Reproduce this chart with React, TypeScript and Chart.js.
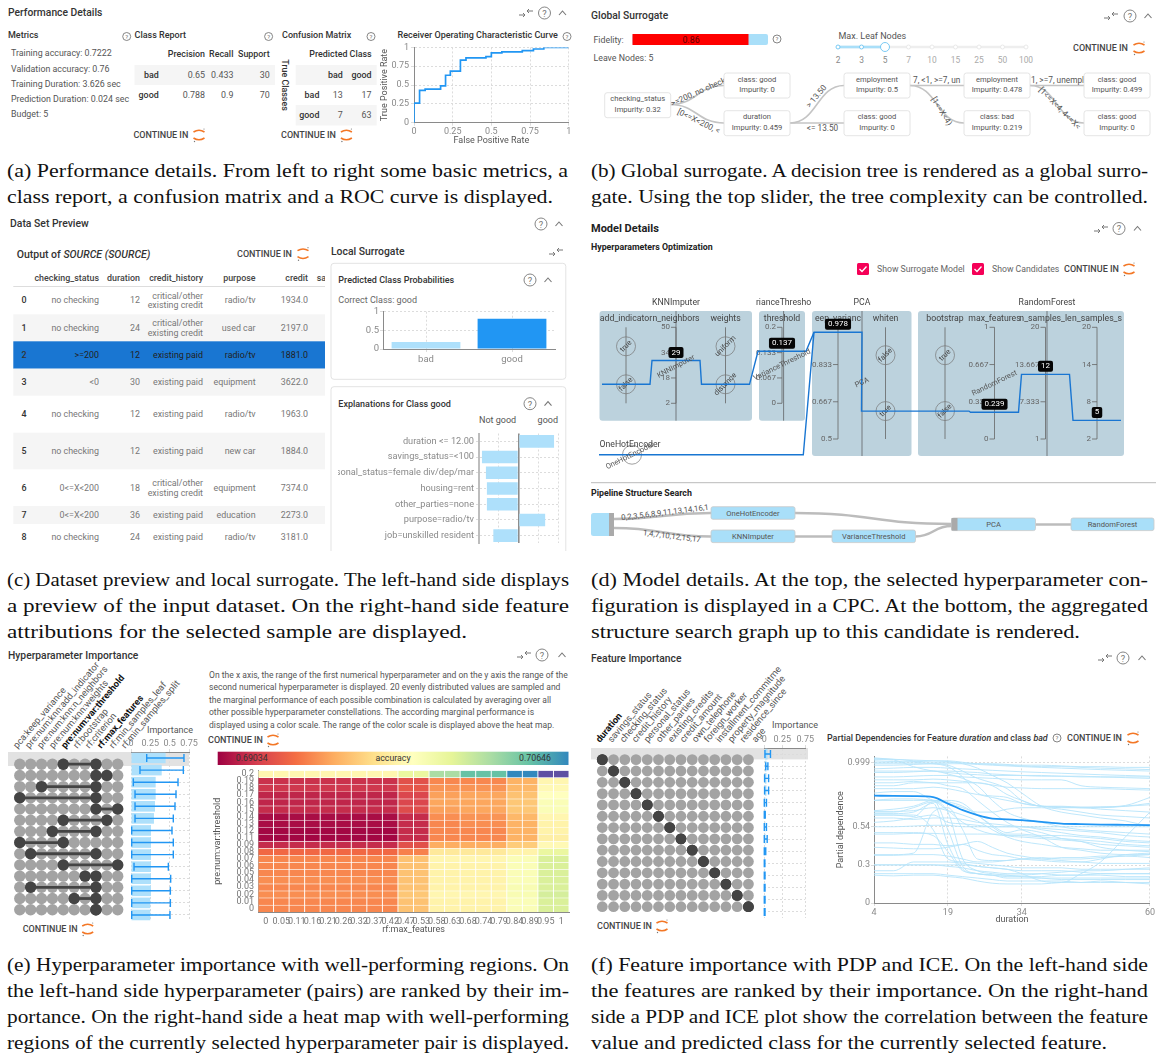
import React, { useEffect, useRef } from 'react';
import Chart from 'chart.js/auto';

// ---------- data ----------
const metricLines = ['Training accuracy: 0.7222', 'Validation accuracy: 0.76', 'Training Duration: 3.626 sec', 'Prediction Duration: 0.024 sec', 'Budget: 5'];
const rocFpr = [0, 0, 0.036, 0.072, 0.172, 0.204, 0.235, 0.3, 0.336, 0.465, 0.5, 0.568, 0.7, 0.772, 0.839, 0.868, 1];
const rocTpr = [0, 0.085, 0.26, 0.43, 0.447, 0.489, 0.63, 0.685, 0.83, 0.86, 0.877, 0.928, 0.94, 0.957, 0.979, 1, 1];
const rocTicks = [0, 0.25, 0.5, 0.75, 1];

const probClasses = ['bad', 'good'];
const probValues = [0.19, 0.81];
const probTicks = [0, 0.5, 1];

const explainLabels = ['duration <= 12.00', 'savings_status=<100', 'personal_status=female div/dep/mar', 'housing=rent', 'other_parties=none', 'purpose=radio/tv', 'job=unskilled resident'];
const explainValues = [0.09, -0.0925, -0.0825, -0.08, -0.08, 0.0675, -0.0637];

const tableHeaders = ['checking_status', 'duration', 'credit_history', 'purpose', 'credit'];
const tableChecking = ['no checking', 'no checking', '>=200', '<0', 'no checking', 'no checking', '0<=X<200', '0<=X<200', 'no checking'];
const tableDuration = ['12', '24', '12', '30', '12', '12', '18', '36', '24'];
const tableHistory = ['c', 'c', 'e', 'e', 'e', 'e', 'c', 'e', 'e'];
const tablePurpose = ['radio/tv', 'used car', 'radio/tv', 'equipment', 'radio/tv', 'new car', 'equipment', 'education', 'radio/tv'];
const tableCredit = ['1934.0', '2197.0', '1881.0', '3622.0', '1963.0', '1884.0', '7374.0', '2273.0', '3181.0'];
const tableRowCenters = [300.3, 327.7, 355, 382.3, 414, 451, 487.7, 515, 537];

const sliderLabels = ['2', '3', '5', '7', '10', '15', '25', '50', '100'];

const pcpAxisLabels = ['add_indicator', 'n_neighbors', 'weights', 'threshold', 'eep_varianc', 'whiten', 'bootstrap', 'max_features', 'n_samples_le', 'n_samples_s'];
const pcpMin = [0, 2, 0, 0, 0.5, 0, 0, 0, 1, 2];
const pcpMax = [1, 50, 1, 0.2, 1, 1, 1, 1, 20, 20];
const pcpCats: (string[] | null)[] = [['true', 'false'], null, ['uniform', 'distance'], null, null, ['false', 'true'], ['true', 'false'], null, null, null];
const pcpSelected: (number | string)[] = ['false', 29, 'distance', 0.137, 0.978, 'true', 'false', 0.239, 12, 5];
const pcpBadges = ['', '29', '', '0.137', '0.978', '', '', '0.239', '12', '5'];
const pcpTickLabels: (string[] | null)[] = [null, ['50', '34', '18', '2'], null, ['0.2', '0.133', '0.067', '0'], ['1', '0.833', '0.667', '0.5'], null, null, ['1', '0.667', '0.333', '0'], ['20', '13.667', '7.333', '1'], ['20', '14', '8', '2']];
// layout of the parallel-coordinates plot, kept apart from the values
const pcpAxisPos = [36, 86, 135.5, 192, 248, 295.5, 355, 404.5, 455.5, 507];
const pcpAxisLong = [false, false, false, false, true, true, true, true, true, true];
const pcpBlocks = [
  { t: 'KNNImputer', c: 86, l: 9.5, r: 162, long: false },
  { t: 'rianceThresho', c: 193.6, l: 169, r: 215, long: false },
  { t: 'PCA', c: 272, l: 222, r: 321.5, long: true },
  { t: 'RandomForest', c: 457, l: 328, r: 534, long: true },
];

const upsetColumns = ['pca:keep_variance', 'pre:num:knn:add_indicator', 'pre:num:knn:n_neighbors', 'pre:num:knn:weights', 'pre:num:var:threshold', 'rf:bootstrap', 'rf:criterion', 'rf:max_features', 'rf:min_samples_leaf', 'rf:min_samples_split'];
const upsetBoldColumns = [4, 7];
const upsetPairs = [[4, 7], [7, 8], [2, 7], [0, 7], [7, 9], [4, 8], [3, 7], [0, 4], [1, 7], [4, 9], [6, 7], [1, 7], [5, 7], [7, 7]];
const upsetImportance = [0.448, 0.397, 0.319, 0.319, 0.31, 0.297, 0.259, 0.259, 0.259, 0.259, 0.259, 0.259, 0.25, 0.25];
const upsetErrLow = [0.203, 0.116, 0.03, 0.052, 0.052, 0.052, 0.009, 0.009, 0.009, 0.039, 0.009, 0.009, 0.009, 0.009];
const upsetErrHigh = [0.685, 0.677, 0.608, 0.582, 0.569, 0.547, 0.53, 0.547, 0.547, 0.483, 0.513, 0.509, 0.509, 0.504];

const heatXLabels = ['0', '0.05', '0.11', '0.16', '0.21', '0.26', '0.32', '0.37', '0.42', '0.47', '0.53', '0.58', '0.63', '0.68', '0.74', '0.79', '0.84', '0.89', '0.95', '1'];
const heatYLabels = ['0.2', '0.19', '0.18', '0.17', '0.16', '0.15', '0.14', '0.13', '0.12', '0.11', '0.09', '0.08', '0.07', '0.06', '0.05', '0.04', '0.03', '0.02', '0.01', '0'];
const heatColumnGroup = [0, 0, 0, 0, 0, 0, 0, 0, 0, 1, 1, 2, 2, 3, 3, 3, 4, 4, 5, 5];
const accuracyMin = 0.69034;
const accuracyMax = 0.70646;
// accuracy per row (top to bottom) for each column group
const heatRowValues = [
  [0.69792, 0.69969, 0.70162, 0.70324, 0.70485, 0.70646],
  [0.69163, 0.6926, 0.69421, 0.69421, 0.69534, 0.69792],
  [0.69179, 0.69276, 0.69453, 0.69453, 0.6955, 0.69808],
  [0.69131, 0.69227, 0.69485, 0.69501, 0.69582, 0.6984],
  [0.69131, 0.69227, 0.69501, 0.69501, 0.69598, 0.69872],
  [0.69147, 0.69244, 0.69485, 0.69501, 0.69598, 0.69872],
  [0.69066, 0.69147, 0.69437, 0.69453, 0.6955, 0.69792],
  [0.69066, 0.69147, 0.69421, 0.69437, 0.69534, 0.69776],
  [0.6905, 0.69147, 0.69421, 0.69421, 0.69534, 0.69776],
  [0.6905, 0.69147, 0.69421, 0.69421, 0.69534, 0.69759],
  [0.69147, 0.6926, 0.69518, 0.69518, 0.69614, 0.69808],
  [0.6934, 0.69405, 0.69727, 0.69727, 0.69776, 0.69969],
  [0.69421, 0.69582, 0.69792, 0.69792, 0.69872, 0.70033],
  [0.69421, 0.69582, 0.69776, 0.69776, 0.69872, 0.70033],
  [0.69421, 0.69582, 0.69776, 0.69776, 0.69872, 0.70033],
  [0.69437, 0.69582, 0.69776, 0.69776, 0.69872, 0.70033],
  [0.69421, 0.69582, 0.69776, 0.69776, 0.69888, 0.70033],
  [0.69437, 0.69598, 0.69792, 0.69792, 0.69888, 0.70049],
  [0.69421, 0.69582, 0.69776, 0.69776, 0.69872, 0.70033],
  [0.69421, 0.69582, 0.69776, 0.69776, 0.69872, 0.70033],
];

const featureColumns = ['duration', 'savings_status', 'checking_status', 'credit_history', 'personal_status', 'other_parties', 'existing_credits', 'credit_amount', 'own_telephone', 'foreign_worker', 'installment_commitme', 'property_magnitude', 'residence_since', 'age'];
const featureImportance = [0.045, 0.03, 0.03, 0.03, 0.014, 0.007, 0.014, 0.018, 0.01, 0.004, 0.005, 0.005, 0.005, 0.005];
const featureErrLow = [0.009, 0.02, 0.004, 0.004, 0, 0, 0, 0, 0, 0, 0, 0, 0, 0];
const featureErrHigh = [0.086, 0.05, 0.06, 0.06, 0.03, 0.013, 0.03, 0.04, 0.02, 0.008, 0.01, 0.01, 0.01, 0.01];

const pdpX = [4, 8, 12, 16, 19, 22, 25, 28, 31, 34, 38, 42, 46, 50, 55, 60];
const pdpMean = [0.732, 0.731, 0.729, 0.722, 0.678, 0.633, 0.6, 0.576, 0.571, 0.565, 0.553, 0.542, 0.538, 0.535, 0.533, 0.531];
const pdpIce = [
  [0.985, 0.98, 0.975, 0.97, 0.965, 0.955, 0.95, 0.945, 0.94, 0.935, 0.93, 0.93, 0.925, 0.92, 0.915, 0.91],
  [0.96, 0.96, 0.965, 0.97, 0.97, 0.96, 0.95, 0.95, 0.945, 0.94, 0.94, 0.935, 0.93, 0.93, 0.925, 0.925],
  [0.94, 0.94, 0.945, 0.95, 0.95, 0.95, 0.945, 0.94, 0.935, 0.93, 0.925, 0.92, 0.915, 0.91, 0.905, 0.9],
  [0.98, 0.975, 0.93, 0.9, 0.89, 0.88, 0.875, 0.87, 0.87, 0.87, 0.87, 0.865, 0.865, 0.86, 0.86, 0.86],
  [0.915, 0.92, 0.925, 0.925, 0.92, 0.915, 0.91, 0.905, 0.9, 0.895, 0.89, 0.885, 0.88, 0.875, 0.87, 0.865],
  [0.89, 0.89, 0.895, 0.9, 0.9, 0.895, 0.89, 0.88, 0.875, 0.87, 0.865, 0.865, 0.86, 0.86, 0.855, 0.85],
  [0.86, 0.86, 0.865, 0.87, 0.87, 0.86, 0.855, 0.85, 0.845, 0.84, 0.84, 0.84, 0.8, 0.79, 0.785, 0.78],
  [0.84, 0.84, 0.84, 0.845, 0.84, 0.83, 0.82, 0.805, 0.79, 0.785, 0.78, 0.78, 0.78, 0.78, 0.775, 0.77],
  [0.82, 0.82, 0.83, 0.82, 0.82, 0.82, 0.82, 0.8, 0.74, 0.7, 0.66, 0.66, 0.655, 0.655, 0.66, 0.67],
  [0.97, 0.965, 0.96, 0.95, 0.93, 0.86, 0.75, 0.72, 0.7, 0.68, 0.66, 0.655, 0.65, 0.65, 0.66, 0.68],
  [0.95, 0.95, 0.95, 0.95, 0.94, 0.9, 0.85, 0.82, 0.78, 0.7, 0.66, 0.655, 0.65, 0.655, 0.665, 0.72],
  [0.78, 0.78, 0.78, 0.79, 0.78, 0.76, 0.74, 0.73, 0.72, 0.68, 0.66, 0.65, 0.65, 0.64, 0.63, 0.62],
  [0.75, 0.76, 0.76, 0.7, 0.68, 0.65, 0.62, 0.62, 0.64, 0.65, 0.65, 0.64, 0.62, 0.6, 0.59, 0.58],
  [0.7, 0.71, 0.71, 0.7, 0.69, 0.66, 0.6, 0.52, 0.46, 0.45, 0.44, 0.43, 0.42, 0.4, 0.39, 0.38],
  [0.63, 0.64, 0.66, 0.7, 0.7, 0.68, 0.6, 0.53, 0.48, 0.5, 0.48, 0.44, 0.42, 0.38, 0.36, 0.35],
  [0.625, 0.625, 0.63, 0.65, 0.63, 0.6, 0.56, 0.5, 0.45, 0.42, 0.4, 0.38, 0.37, 0.36, 0.36, 0.36],
  [0.6, 0.6, 0.59, 0.69, 0.63, 0.55, 0.5, 0.47, 0.46, 0.46, 0.45, 0.44, 0.43, 0.42, 0.4, 0.39],
  [0.58, 0.58, 0.57, 0.58, 0.58, 0.57, 0.55, 0.54, 0.53, 0.52, 0.51, 0.5, 0.49, 0.48, 0.46, 0.45],
  [0.55, 0.56, 0.58, 0.6, 0.55, 0.54, 0.53, 0.52, 0.52, 0.52, 0.5, 0.48, 0.46, 0.45, 0.43, 0.42],
  [0.52, 0.52, 0.525, 0.53, 0.53, 0.52, 0.52, 0.52, 0.52, 0.52, 0.52, 0.52, 0.52, 0.52, 0.52, 0.52],
  [0.47, 0.47, 0.475, 0.475, 0.47, 0.47, 0.47, 0.47, 0.47, 0.47, 0.46, 0.46, 0.45, 0.44, 0.42, 0.41],
  [0.38, 0.375, 0.37, 0.37, 0.38, 0.4, 0.42, 0.38, 0.34, 0.32, 0.3, 0.29, 0.28, 0.3, 0.33, 0.34],
  [0.33, 0.33, 0.34, 0.62, 0.65, 0.5, 0.3, 0.29, 0.29, 0.3, 0.31, 0.3, 0.3, 0.31, 0.32, 0.33],
  [0.325, 0.325, 0.33, 0.33, 0.32, 0.3, 0.28, 0.28, 0.29, 0.3, 0.3, 0.31, 0.31, 0.32, 0.32, 0.31],
  [0.26, 0.26, 0.26, 0.26, 0.25, 0.24, 0.22, 0.21, 0.2, 0.2, 0.2, 0.19, 0.19, 0.19, 0.18, 0.18],
  [0.22, 0.22, 0.28, 0.28, 0.28, 0.27, 0.25, 0.24, 0.23, 0.22, 0.22, 0.22, 0.21, 0.2, 0.2, 0.2],
  [0.2, 0.2, 0.2, 0.2, 0.19, 0.18, 0.17, 0.16, 0.15, 0.15, 0.15, 0.15, 0.14, 0.14, 0.14, 0.14],
  [0.19, 0.185, 0.19, 0.19, 0.18, 0.17, 0.15, 0.135, 0.13, 0.13, 0.13, 0.14, 0.14, 0.15, 0.14, 0.13],
  [0.26, 0.26, 0.26, 0.26, 0.26, 0.26, 0.25, 0.24, 0.23, 0.2, 0.15, 0.14, 0.2, 0.28, 0.45, 0.62],
  [0.7, 0.7, 0.7, 0.7, 0.5, 0.25, 0.2, 0.19, 0.17, 0.17, 0.17, 0.17, 0.17, 0.17, 0.17, 0.17],
  [0.62, 0.62, 0.65, 0.69, 0.62, 0.3, 0.22, 0.2, 0.19, 0.18, 0.17, 0.16, 0.16, 0.16, 0.16, 0.16],
  [0.61, 0.61, 0.62, 0.68, 0.4, 0.23, 0.2, 0.19, 0.19, 0.19, 0.2, 0.21, 0.22, 0.22, 0.23, 0.24],
  [0.8, 0.8, 0.82, 0.82, 0.8, 0.78, 0.7, 0.62, 0.55, 0.5, 0.45, 0.38, 0.36, 0.34, 0.33, 0.33],
  [0.9, 0.9, 0.9, 0.9, 0.88, 0.85, 0.8, 0.7, 0.62, 0.58, 0.55, 0.52, 0.5, 0.49, 0.48, 0.47],
  [0.41, 0.41, 0.4, 0.4, 0.39, 0.4, 0.36, 0.33, 0.32, 0.3, 0.29, 0.28, 0.28, 0.27, 0.27, 0.27],
  [0.48, 0.48, 0.48, 0.46, 0.35, 0.22, 0.2, 0.19, 0.18, 0.18, 0.18, 0.19, 0.19, 0.2, 0.2, 0.2],
  [0.6, 0.6, 0.6, 0.5, 0.3, 0.28, 0.27, 0.26, 0.25, 0.24, 0.24, 0.24, 0.23, 0.23, 0.23, 0.23],
  [0.99, 0.98, 0.97, 0.96, 0.96, 0.95, 0.92, 0.87, 0.82, 0.75, 0.66, 0.62, 0.6, 0.58, 0.56, 0.52],
];
const pdpYTickPos = [0, 0.2585, 0.519, 0.959];
const pdpYTickLabels = ['0', '0.3', '0.54', '0.999'];
const pdpXTicks = [4, 19, 34, 60];

const spectralStops = ['#9e0142', '#d53e4f', '#f46d43', '#fdae61', '#fee08b', '#ffffbf', '#e6f598', '#abdda4', '#66c2a5', '#3288bd', '#5e4fa2'];

// ---------- helpers ----------
const FONT = 'Roboto, sans-serif';
const BLUE = '#2196f3';
const LIGHT = '#aee0fb';
const GRID = '#dcdcdc';
const AXIS = '#8a8a8a';
const TICK = '#8a8a8a';

function hex(c: string) { return [1, 3, 5].map(i => parseInt(c.slice(i, i + 2), 16)); }
function spectral(v: number) {
  const t = Math.max(0, Math.min(1, (v - accuracyMin) / (accuracyMax - accuracyMin))) * (spectralStops.length - 1);
  const i = Math.min(Math.floor(t), spectralStops.length - 2);
  const a = hex(spectralStops[i]); const b = hex(spectralStops[i + 1]); const f = t - i;
  return `rgb(${a.map((x, k) => Math.round(x + (b[k] - x) * f)).join(',')})`;
}

function base(padding: any) {
  return {
    responsive: false, animation: false as const,
    layout: { padding },
    plugins: { legend: { display: false }, tooltip: { enabled: false } },
  };
}
const fitH = (h: number) => (s: any) => { s.height = h; };
const fitW = (w: number) => (s: any) => { s.width = w; };
const tickFont = (size = 9) => ({ family: 'Roboto', size });
const fixedTicks = (ticks: number[]) => (s: any) => { s.ticks = ticks.map(value => ({ value })); };
const plainTick = (v: number) => String(v);

function errorBars(lo: number[], hi: number[], cap: number) {
  return {
    id: 'errs',
    afterDatasetsDraw(c: any) {
      const { ctx, scales: { x, y } } = c;
      ctx.save(); ctx.strokeStyle = BLUE; ctx.lineWidth = 1.4;
      lo.forEach((l, i) => {
        const py = y.getPixelForValue(i); const a = x.getPixelForValue(l); const b = x.getPixelForValue(hi[i]);
        ctx.beginPath();
        ctx.moveTo(a, py); ctx.lineTo(b, py);
        ctx.moveTo(a, py - cap); ctx.lineTo(a, py + cap);
        ctx.moveTo(b, py - cap); ctx.lineTo(b, py + cap);
        ctx.stroke();
      });
      ctx.restore();
    },
  };
}

function ChartBox({ x, y, w, h, make }: { x: number; y: number; w: number; h: number; make: () => any }) {
  const ref = useRef<HTMLCanvasElement>(null);
  useEffect(() => {
    const c = new Chart(ref.current as any, make());
    return () => c.destroy();
  }, []);
  return <canvas ref={ref} width={w} height={h} style={{ position: 'absolute', left: x, top: y, width: w, height: h }} />;
}

function T({ x, y, s = 9, w = 400, c = '#555', a = 'start', rot, it, children }: any) {
  return (
    <text x={x} y={y} fontSize={s} fontWeight={w} fill={c} textAnchor={a} dominantBaseline="central" fontFamily={FONT} fontStyle={it ? 'italic' : undefined}
      transform={rot !== undefined ? `rotate(${rot} ${x} ${y})` : undefined}>{children}</text>
  );
}
function Help({ x, y, r = 5.5 }: any) {
  return (
    <g>
      <circle cx={x} cy={y} r={r} fill="none" stroke="#777" strokeWidth={0.9} />
      <text x={x} y={y + 0.3} fontSize={r * 1.55} fill="#777" textAnchor="middle" dominantBaseline="central" fontFamily={FONT}>?</text>
    </g>
  );
}
function Chev({ x, y }: any) {
  return <polyline points={`${x - 3.5},${y + 2} ${x},${y - 2} ${x + 3.5},${y + 2}`} fill="none" stroke="#777" strokeWidth={1.1} />;
}
function Shrink({ x, y }: any) {
  return (
    <g stroke="#777" strokeWidth={1} fill="none">
      <path d={`M${x - 7},${y + 2} h6 m-2,-2 l2,2 l-2,2`} />
      <path d={`M${x + 7},${y - 2} h-6 m2,-2 l-2,2 l2,2`} />
    </g>
  );
}
function Oj({ x, y }: any) {
  return (
    <g fill="none" stroke="#f37726" strokeWidth={1.6}>
      <path d={`M${x - 5.5},${y - 3} Q${x},${y - 6.5} ${x + 5.5},${y - 3}`} />
      <path d={`M${x - 5.5},${y + 3} Q${x},${y + 6.5} ${x + 5.5},${y + 3}`} />
      <circle cx={x + 5} cy={y - 6} r={0.6} fill="#777" stroke="none" />
      <circle cx={x - 4.5} cy={y + 6.5} r={0.7} fill="#777" stroke="none" />
    </g>
  );
}
function Cont({ x, y, ix }: any) {
  return (
    <g>
      <T x={x} y={y} s={9} w={500} c="#444" >CONTINUE IN</T>
      <Oj x={ix} y={y} />
    </g>
  );
}
function Cap({ x, y, w, children }: any) {
  return (
    <text x={x} y={y} fontSize={18.5} fill="#111" fontFamily="'Liberation Serif', serif" textLength={w} lengthAdjust="spacingAndGlyphs" dominantBaseline="central">{children}</text>
  );
}
function Node({ x, y, l1, l2 }: any) {
  return (
    <g>
      <rect x={x} y={y} width={66} height={25} rx={2.5} fill="#fff" stroke="#ddd" strokeWidth={0.8} />
      <T x={x + 33} y={y + 6.2} s={7.6} a="middle" c="#555">{l1}</T>
      <T x={x + 33} y={y + 16.8} s={7.6} a="middle" c="#555">{l2}</T>
    </g>
  );
}
function Edge({ a, b, c, d, w = 1.6, col = '#c4c4c4' }: any) {
  const m = (a + c) / 2;
  return <path d={`M${a},${b} C${m},${b} ${m},${d} ${c},${d}`} fill="none" stroke={col} strokeWidth={w} />;
}
function PipeNode({ x, y, w, h = 12.6, t }: any) {
  return (
    <g>
      <rect x={x} y={y} width={w} height={h} rx={2} fill="#a9dff9" stroke="#c9c9c9" strokeWidth={0.8} />
      <T x={x + w / 2} y={y + h / 2} s={7.6} a="middle" c="#555">{t}</T>
    </g>
  );
}

// ---------- chart configs ----------
function rocConfig() {
  return {
    type: 'line',
    data: {
      datasets: [{ data: rocFpr.map((x, i) => ({ x, y: rocTpr[i] })), borderColor: BLUE, borderWidth: 1.7, stepped: 'after', pointRadius: 0 }],
    },
    options: {
      ...base({ top: 4.3, right: 6.3 }),
      scales: {
        x: {
          type: 'linear', min: 0, max: 1, afterFit: fitH(23.3), afterBuildTicks: fixedTicks(rocTicks),
          ticks: { color: TICK, font: tickFont(9), padding: 1, maxRotation: 0, autoSkip: false, callback: plainTick },
          grid: { color: GRID, tickLength: 3 }, border: { color: AXIS, dash: [2, 2] },
          title: { display: true, text: 'False Positive Rate', color: '#555', font: tickFont(9), padding: 0 },
        },
        y: {
          min: 0, max: 1, afterFit: fitW(35), afterBuildTicks: fixedTicks(rocTicks),
          ticks: { color: TICK, font: tickFont(9), padding: 2, autoSkip: false, callback: plainTick },
          grid: { color: GRID, tickLength: 3 }, border: { color: AXIS, dash: [2, 2] },
          title: { display: true, text: 'True Positive Rate', color: '#555', font: tickFont(9), padding: 0 },
        },
      },
    },
  };
}

function probConfig() {
  return {
    type: 'bar',
    data: {
      labels: probClasses,
      datasets: [{ data: probValues, backgroundColor: [LIGHT, BLUE], barPercentage: 0.8, categoryPercentage: 1 }],
    },
    options: {
      ...base({ top: 6, right: 5 }),
      scales: {
        x: {
          afterFit: fitH(19),
          ticks: { color: TICK, font: tickFont(9.5), padding: 2 },
          grid: { color: GRID, offset: false, tickLength: 3 }, border: { color: AXIS, dash: [2, 2] },
        },
        y: {
          min: 0, max: 1, afterFit: fitW(43), afterBuildTicks: fixedTicks(probTicks),
          ticks: { color: TICK, font: tickFont(9.5), padding: 1, callback: plainTick },
          grid: { color: GRID, tickLength: 3 }, border: { color: AXIS, dash: [2, 2] },
        },
      },
    },
  };
}

function explainConfig() {
  return {
    type: 'bar',
    data: {
      labels: explainLabels,
      datasets: [{ data: explainValues, backgroundColor: LIGHT, barPercentage: 0.8, categoryPercentage: 1 }],
    },
    options: {
      ...base({ right: 4 }),
      indexAxis: 'y',
      scales: {
        x: {
          min: -0.1, max: 0.1, afterFit: fitH(0),
          ticks: { display: false, stepSize: 0.05 },
          grid: { color: (c: any) => (c.tick.value === 0 ? '#8d8d8d' : GRID), lineWidth: (c: any) => (c.tick.value === 0 ? 1.6 : 1), drawTicks: false },
          border: { display: false, dash: (c: any) => (c.tick && c.tick.value === 0 ? [] : [2, 2]) },
        },
        y: {
          afterFit: fitW(141),
          ticks: { color: TICK, font: tickFont(9.2), autoSkip: false, padding: 2 },
          grid: { color: GRID, offset: false, tickLength: 3 }, border: { color: '#bdbdbd', width: 2, dash: [2, 2] },
        },
      },
    },
  };
}

function pcpY(i: number, v: number | string) {
  const top = 31.3; const bottom = pcpAxisLong[i] ? 143 : 107.3;
  const cats = pcpCats[i];
  if (cats) return top + ((cats.indexOf(v as string) + 0.5) / cats.length) * (bottom - top);
  return bottom - (((v as number) - pcpMin[i]) / (pcpMax[i] - pcpMin[i])) * (bottom - top);
}

function pcpConfig() {
  const main: { x: number; y: number }[] = [];
  pcpAxisLabels.forEach((_, i) => {
    const y = pcpY(i, pcpSelected[i]);
    main.push({ x: pcpAxisPos[i] - 24, y }, { x: pcpAxisPos[i] + 24, y });
  });
  const keep = main[8];
  const encoder = [{ x: 9, y: 158.7 }, { x: 213.3, y: 158.7 }, keep];
  const plugin = {
    id: 'pcp',
    beforeDatasetsDraw(c: any) {
      const { ctx, scales: { x, y } } = c;
      ctx.save();
      ctx.textBaseline = 'middle';
      pcpBlocks.forEach(b => {
        const y0 = y.getPixelForValue(15); const y1 = y.getPixelForValue(b.long ? 160 : 124.7);
        ctx.fillStyle = '#bcd2dd';
        ctx.beginPath();
        ctx.roundRect(x.getPixelForValue(b.l), y0, x.getPixelForValue(b.r) - x.getPixelForValue(b.l), y1 - y0, 3);
        ctx.fill();
        ctx.strokeStyle = '#555'; ctx.lineWidth = 0.7;
        ctx.beginPath(); ctx.moveTo(x.getPixelForValue(b.c), y0); ctx.lineTo(x.getPixelForValue(b.c), y1); ctx.stroke();
        ctx.fillStyle = '#444'; ctx.font = '8.7px Roboto'; ctx.textAlign = 'center';
        ctx.fillText(b.t, x.getPixelForValue(b.c), y.getPixelForValue(6.9));
      });
      pcpAxisLabels.forEach((name, i) => {
        const px = x.getPixelForValue(pcpAxisPos[i]);
        const top = y.getPixelForValue(31.3); const bottom = y.getPixelForValue(pcpAxisLong[i] ? 143 : 107.3);
        ctx.fillStyle = '#444'; ctx.font = '8.7px Roboto'; ctx.textAlign = 'center';
        ctx.fillText(name, px, y.getPixelForValue(23.2));
        ctx.strokeStyle = '#666'; ctx.lineWidth = 0.8;
        ctx.beginPath(); ctx.moveTo(px, top); ctx.lineTo(px, bottom); ctx.stroke();
        const labels = pcpTickLabels[i];
        if (labels) {
          labels.forEach((l, k) => {
            const py = top + (k / (labels.length - 1)) * (bottom - top);
            ctx.beginPath(); ctx.moveTo(px - 5, py); ctx.lineTo(px, py); ctx.stroke();
            ctx.fillStyle = '#666'; ctx.font = '8px Roboto'; ctx.textAlign = 'right';
            ctx.fillText(l, px - 6, py);
          });
        }
        const cats = pcpCats[i];
        if (cats) {
          cats.forEach(cat => {
            const py = y.getPixelForValue(pcpY(i, cat));
            ctx.strokeStyle = '#777'; ctx.lineWidth = 0.7;
            ctx.beginPath(); ctx.arc(px, py, 9.5, 0, Math.PI * 2); ctx.stroke();
            ctx.save(); ctx.translate(px, py); ctx.rotate(-Math.PI / 4);
            ctx.fillStyle = '#444'; ctx.font = '7.5px Roboto'; ctx.textAlign = 'center';
            ctx.fillText(cat, 0, 0); ctx.restore();
          });
        }
      });
      // OneHotEncoder axis
      const ex = x.getPixelForValue(42); const ey = y.getPixelForValue(158.7);
      ctx.strokeStyle = '#777'; ctx.lineWidth = 0.7;
      ctx.beginPath(); ctx.arc(ex, ey, 9.5, 0, Math.PI * 2); ctx.stroke();
      ctx.fillStyle = '#444'; ctx.font = '8.7px Roboto'; ctx.textAlign = 'left';
      ctx.fillText('OneHotEncoder', x.getPixelForValue(9.5), y.getPixelForValue(149));
      ctx.restore();
    },
    afterDatasetsDraw(c: any) {
      const { ctx, scales: { x, y } } = c;
      ctx.save();
      ctx.textBaseline = 'middle'; ctx.textAlign = 'center';
      const rotated: [string, number, number, number][] = [
        ['KNNImputer', 86, 70.7, -28], ['VarianceThreshold', 192, 69, -26], ['PCA', 272, 86.7, -25], ['RandomForest', 404.5, 87.3, -26], ['OneHotEncoder', 40, 160, -26],
      ];
      rotated.forEach(([t, a, b, r]) => {
        ctx.save(); ctx.translate(x.getPixelForValue(a), y.getPixelForValue(b)); ctx.rotate((r * Math.PI) / 180);
        ctx.fillStyle = '#555'; ctx.font = '7.5px Roboto'; ctx.fillText(t, 0, 0); ctx.restore();
      });
      pcpBadges.forEach((t, i) => {
        if (!t) return;
        const px = x.getPixelForValue(pcpAxisPos[i]);
        const py = y.getPixelForValue(pcpY(i, pcpSelected[i]) - 8);
        ctx.font = '8px Roboto';
        const w = ctx.measureText(t).width + 6;
        ctx.fillStyle = '#050505';
        ctx.beginPath(); ctx.roundRect(px - w / 2, py - 5.5, w, 11, 2); ctx.fill();
        ctx.fillStyle = '#fff'; ctx.fillText(t, px, py);
      });
      ctx.restore();
    },
  };
  const line = (data: any) => ({ data, borderColor: '#1976d2', borderWidth: 1.4, pointRadius: 0, showLine: true, tension: 0 });
  return {
    type: 'scatter',
    data: { datasets: [line(main), line(encoder)] },
    options: {
      ...base(0),
      scales: {
        x: { type: 'linear', min: 0, max: 540, display: false },
        y: { type: 'linear', min: 0, max: 174, reverse: true, display: false },
      },
    },
    plugins: [plugin],
  };
}

function dotsConfig(nCols: number, pairs: number[][], xr: number[], yr: number[], r: number) {
  const all: any[] = [];
  pairs.forEach((_, row) => { for (let c = 0; c < nCols; c++) all.push({ x: c, y: row }); });
  const dark: any[] = [];
  pairs.forEach((p, row) => { p.forEach(c => dark.push({ x: c, y: row })); });
  const lines = pairs.map((p, row) => ({
    data: [{ x: p[0], y: row }, { x: p[1], y: row }], showLine: true, borderColor: '#444', borderWidth: 2.8, pointRadius: 0, order: 2, clip: false,
  }));
  return {
    type: 'scatter',
    data: {
      datasets: [
        { data: all, backgroundColor: '#a3a3a3', pointRadius: r, pointBorderWidth: 0, order: 3, clip: false },
        ...lines,
        { data: dark, backgroundColor: '#444', pointRadius: r, pointBorderWidth: 0, order: 1, clip: false },
      ],
    },
    options: {
      ...base(0),
      scales: {
        x: { type: 'linear', min: xr[0], max: xr[1], display: false },
        y: { type: 'linear', min: yr[0], max: yr[1], reverse: true, display: false },
      },
    },
  };
}

function importanceConfig(vals: number[], lo: number[], hi: number[], pad: any, top: number, maxV: number, ticks: number[], tickText: string[]) {
  return {
    type: 'bar',
    data: {
      labels: vals.map((_, i) => String(i)),
      datasets: [{ data: vals, backgroundColor: LIGHT, barPercentage: 0.88, categoryPercentage: 1 }],
    },
    options: {
      ...base(pad),
      indexAxis: 'y',
      scales: {
        x: {
          position: 'top', min: 0, max: maxV, afterFit: fitH(top),
          afterBuildTicks: fixedTicks(ticks),
          ticks: { color: TICK, font: tickFont(9), padding: 0, maxRotation: 0, autoSkip: false, callback: (v: number) => tickText[ticks.indexOf(v)] },
          grid: { color: GRID, tickLength: 3 }, border: { color: AXIS, dash: [2, 2] },
        },
        y: {
          afterFit: fitW(0),
          ticks: { display: false },
          grid: { color: GRID, offset: false, drawTicks: false }, border: { display: false, dash: [2, 2] },
        },
      },
    },
    plugins: [errorBars(lo, hi, 4)],
  };
}

function heatConfig() {
  const rowsBottomUp = heatRowValues.map(r => heatColumnGroup.map(g => r[g])).reverse();
  return {
    type: 'bar',
    data: {
      labels: heatXLabels,
      datasets: rowsBottomUp.map(row => ({
        data: row.map(() => 1),
        backgroundColor: row.map(spectral),
        borderColor: 'rgba(255,255,255,0.22)', borderWidth: 0.8,
        barPercentage: 1, categoryPercentage: 1, yAxisID: 'yv',
      })),
    },
    options: {
      ...base({ top: 4.3, right: 3 }),
      scales: {
        x: {
          stacked: true, afterFit: fitH(23),
          ticks: { autoSkip: false, maxRotation: 0, minRotation: 0, color: '#777', font: tickFont(9), padding: 1 },
          grid: { display: false, tickLength: 3, drawTicks: true }, border: { color: AXIS },
          title: { display: true, text: 'rf:max_features', color: '#555', font: tickFont(9), padding: 0 },
        },
        yv: { type: 'linear', stacked: true, min: 0, max: 20, display: false },
        y: {
          type: 'category', labels: heatYLabels, offset: true, position: 'left', afterFit: fitW(46),
          ticks: { autoSkip: false, color: '#777', font: tickFont(9), padding: 1 },
          grid: { display: false, tickLength: 3 }, border: { color: AXIS },
          title: { display: true, text: 'pre:num:var:threshold', color: '#555', font: tickFont(9), padding: 0 },
        },
      },
    },
  };
}

function pdpConfig() {
  const toXY = (ys: number[]) => ys.map((y, i) => ({ x: pdpX[i], y }));
  return {
    type: 'line',
    data: {
      datasets: [
        { data: toXY(pdpMean), borderColor: BLUE, borderWidth: 1.8, pointRadius: 0, cubicInterpolationMode: 'monotone', order: 0 },
        ...pdpIce.map(l => ({ data: toXY(l), borderColor: '#b7e4fb', borderWidth: 0.9, pointRadius: 0, cubicInterpolationMode: 'monotone', order: 1 })),
      ],
    },
    options: {
      ...base({ top: 6, right: 5 }),
      scales: {
        x: {
          type: 'linear', min: 4, max: 60, afterFit: fitH(22),
          afterBuildTicks: fixedTicks(pdpXTicks),
          ticks: { color: TICK, font: tickFont(9), padding: 1, maxRotation: 0 },
          grid: { color: GRID, tickLength: 3 }, border: { color: AXIS, dash: [2, 2] },
          title: { display: true, text: 'duration', color: '#555', font: tickFont(9), padding: 0 },
        },
        y: {
          min: 0, max: 1, afterFit: fitW(39),
          afterBuildTicks: fixedTicks(pdpYTickPos),
          ticks: { color: TICK, font: tickFont(9), padding: 1, callback: (v: number) => pdpYTickLabels[pdpYTickPos.indexOf(v)] },
          grid: { color: GRID, tickLength: 3 }, border: { color: AXIS, dash: [2, 2] },
          title: { display: true, text: 'Partial dependence', color: '#555', font: tickFont(9), padding: 0 },
        },
      },
    },
  };
}

// ---------- page ----------
function Overlay() {
  return (
    <svg width={1156} height={1057} style={{ position: 'absolute', left: 0, top: 0 }}>
      <defs>
        <linearGradient id="spec">
          {spectralStops.slice(0, 10).map((c, i) => <stop key={i} offset={`${(i / 9) * 100}%`} stopColor={c} />)}
        </linearGradient>
        <clipPath id="tbl"><rect x={0} y={270} width={325} height={282} /></clipPath>
      </defs>

      {/* (a) */}
      <T x={8} y={12} s={10.3} w={500} c="#333">Performance Details</T>
      <Shrink x={526} y={13} /><Help x={544.5} y={13} r={6} /><Chev x={562.5} y={13} />
      <T x={8} y={35} s={9} w={500} c="#333">Metrics</T><Help x={126.7} y={36.5} r={4} />
      {metricLines.map((m, i) => <T key={i} x={11} y={53.3 + i * 15.2} s={8.85} c="#555">{m}</T>)}
      <T x={134.5} y={35} s={9} w={500} c="#333">Class Report</T><Help x={268.6} y={36.5} r={4} />
      <rect x={134.5} y={65} width={140.5} height={20} fill="#f5f5f5" />
      {[['Precision', 205], ['Recall', 233.4], ['Support', 269.7]].map(([t, x]: any) => <T key={t} x={x} y={54.3} s={8.9} w={500} c="#333" a="end">{t}</T>)}
      <T x={144} y={75} s={8.9} w={500} c="#333">bad</T>
      <T x={138.6} y={95} s={8.9} w={500} c="#333">good</T>
      {[['0.65', 205, 75], ['0.433', 233.4, 75], ['30', 269.7, 75], ['0.788', 205, 95], ['0.9', 233.4, 95], ['70', 269.7, 95]].map(([t, x, y]: any) => <T key={t} x={x} y={y} s={8.9} c="#555" a="end">{t}</T>)}
      <Cont x={133.4} y={135} ix={199} />
      <T x={282} y={35} s={9} w={500} c="#333">Confusion Matrix</T><Help x={371} y={36.5} r={4} />
      <T x={285} y={85} s={8.9} w={500} c="#333" a="middle" rot={90}>True Classes</T>
      <rect x={295.7} y={65} width={81} height={20} fill="#f5f5f5" />
      <rect x={295.7} y={105} width={81} height={20.5} fill="#f5f5f5" />
      <T x={371.6} y={54.3} s={8.9} w={500} c="#333" a="end">Predicted Class</T>
      <T x={342.7} y={75} s={8.9} w={500} c="#333" a="end">bad</T>
      <T x={371.6} y={75} s={8.9} w={500} c="#333" a="end">good</T>
      <T x={319.4} y={95} s={8.9} w={500} c="#333" a="end">bad</T>
      <T x={319.4} y={115} s={8.9} w={500} c="#333" a="end">good</T>
      {[['13', 342.7, 95], ['17', 371.6, 95], ['7', 342.7, 115], ['63', 371.6, 115]].map(([t, x, y]: any) => <T key={t} x={x} y={y} s={8.9} c="#555" a="end">{t}</T>)}
      <Cont x={281} y={135} ix={346.4} />
      <T x={397.5} y={35} s={9} w={500} c="#333">Receiver Operating Characteristic Curve</T><Help x={567} y={36.5} r={4} />

      <Cap x={7} y={171} w={561}>(a) Performance details. From left to right some basic metrics, a</Cap>
      <Cap x={7} y={197} w={546}>class report, a confusion matrix and a ROC curve is displayed.</Cap>

      {/* (b) */}
      <T x={591} y={15} s={10.3} w={500} c="#333">Global Surrogate</T>
      <Shrink x={1111} y={16} /><Help x={1130} y={16} r={6} /><Chev x={1148} y={16} />
      <T x={593.5} y={40} s={8.8} c="#555">Fidelity:</T>
      <rect x={632.5} y={34} width={135.5} height={11} rx={2} fill="#a9dff9" />
      <rect x={632.5} y={34} width={116} height={11} fill="#ff0000" />
      <T x={691} y={40} s={8.8} a="middle" c="#5a0000">0.86</T>
      <Help x={777} y={39} r={4} />
      <T x={593.5} y={57.7} s={8.8} c="#555">Leave Nodes: 5</T>
      <T x={838.5} y={35.7} s={9} c="#555">Max. Leaf Nodes</T>
      <rect x={838} y={45.7} width={190} height={2.6} rx={1.3} fill="#eee" />
      <rect x={838} y={45.7} width={47} height={2.6} fill="#a9dff9" />
      {sliderLabels.map((l, i) => {
        const x = 838 + i * 23.5;
        return (
          <g key={l}>
            <circle cx={x} cy={47} r={i === 2 ? 4.5 : 2} fill="#fff" stroke={i <= 2 ? '#6cc4f2' : '#e6e6e6'} strokeWidth={0.9} />
            <T x={x} y={60} s={8.4} a="middle" c={i <= 2 ? '#888' : '#aaa'}>{l}</T>
          </g>
        );
      })}
      <Cont x={1073} y={48} ix={1139} />
      <Edge a={670} b={104.5} c={724} d={85.5} /><Edge a={670} b={104.5} c={724} d={123} />
      <Edge a={790} b={123} c={844} d={85.5} /><Edge a={790} b={123} c={844} d={123} />
      <Edge a={910} b={85.5} c={964} d={85.5} /><Edge a={910} b={85.5} c={964} d={123} />
      <Edge a={1030} b={85.5} c={1084} d={85.5} /><Edge a={1030} b={85.5} c={1084} d={123} />
      <T x={698} y={91.5} s={8.2} a="middle" rot={-24}>{'>=200, no check'}</T>
      <T x={699} y={121} s={8.2} a="middle" rot={26}>{'[0<=X<200, <'}</T>
      <T x={816} y={96} s={8.2} a="middle" rot={-50}>{'> 13.50'}</T>
      <T x={822.5} y={128} s={8.2} a="middle">{'<= 13.50'}</T>
      <T x={913} y={80} s={8.3}>{'7, <1, >=7, un'}</T>
      <T x={942} y={111} s={8.2} a="middle" rot={58}>{'[1<=X<4)'}</T>
      <T x={1031} y={80} s={8.3}>{'1, >=7, unempl'}</T>
      <T x={1060} y={108} s={8.2} a="middle" rot={45}>{'[1<=X<4, 4<=X<'}</T>
      <Node x={604.7} y={92.7} l1="checking_status" l2="Impurity: 0.32" />
      <Node x={724} y={73} l1="class: good" l2="Impurity: 0" />
      <Node x={724} y={110.7} l1="duration" l2="Impurity: 0.459" />
      <Node x={844} y={73} l1="employment" l2="Impurity: 0.5" />
      <Node x={844} y={110.7} l1="class: good" l2="Impurity: 0" />
      <Node x={964} y={73} l1="employment" l2="Impurity: 0.478" />
      <Node x={964} y={110.7} l1="class: bad" l2="Impurity: 0.219" />
      <Node x={1084} y={73} l1="class: good" l2="Impurity: 0.499" />
      <Node x={1084} y={110.7} l1="class: good" l2="Impurity: 0" />

      <Cap x={591} y={171} w={557}>(b) Global surrogate. A decision tree is rendered as a global surro-</Cap>
      <Cap x={591} y={197} w={557}>gate. Using the top slider, the tree complexity can be controlled.</Cap>

      {/* (c) */}
      <T x={10} y={223.7} s={10.4} w={500} c="#333">Data Set Preview</T>
      <Help x={541} y={224} r={6} /><Chev x={559} y={224} />
      <text x={16.7} y={254.3} fontSize={10.5} fontWeight={500} fill="#333" fontFamily={FONT} dominantBaseline="central">Output of <tspan fontStyle="italic">SOURCE (SOURCE)</tspan></text>
      <Cont x={237} y={253.7} ix={303} />
      <T x={331} y={251.7} s={10.4} w={500} c="#333">Local Surrogate</T><Shrink x={556} y={252} />
      <g clipPath="url(#tbl)">
        <rect x={13.3} y={314.3} width={312} height={27} fill="#f5f5f5" />
        <rect x={13.3} y={341.3} width={312} height={27.4} fill="#1976d2" />
        <rect x={13.3} y={368.7} width={312} height={27} fill="#f5f5f5" />
        <rect x={13.3} y={432.7} width={312} height={36.6} fill="#f5f5f5" />
        <rect x={13.3} y={506} width={312} height={18} fill="#f5f5f5" />
        <line x1={13.3} x2={325} y1={286.5} y2={286.5} stroke="#ddd" />
        {tableHeaders.map((h, i) => <T key={h} x={[99, 140, 203, 255.6, 308][i]} y={278} s={8.9} w={500} c="#444" a="end">{h}</T>)}
        <T x={316.8} y={278} s={8.9} w={500} c="#444">sa</T>
        {tableRowCenters.map((y, i) => {
          const col = i === 2 ? '#222' : '#777';
          return (
            <g key={i}>
              <T x={24} y={y} s={8.9} w={500} c="#333" a="middle">{String(i)}</T>
              <T x={99} y={y} s={8.9} c={col} a="end">{tableChecking[i]}</T>
              <T x={140} y={y} s={8.9} c={col} a="end">{tableDuration[i]}</T>
              {tableHistory[i] === 'c' ? (
                <g>
                  <T x={203} y={y - 4.8} s={8.9} c={col} a="end">critical/other</T>
                  <T x={203} y={y + 4.8} s={8.9} c={col} a="end">existing credit</T>
                </g>
              ) : <T x={203} y={y} s={8.9} c={col} a="end">existing paid</T>}
              <T x={255.6} y={y} s={8.9} c={col} a="end">{tablePurpose[i]}</T>
              <T x={308} y={y} s={8.9} c={col} a="end">{tableCredit[i]}</T>
            </g>
          );
        })}
      </g>
      <rect x={331} y={263.3} width={234.8} height={116} rx={3} fill="none" stroke="#e3e3e3" />
      <path d="M331,551 V389.7 a3,3 0 0 1 3,-3 H562.8 a3,3 0 0 1 3,3 V551" fill="none" stroke="#e3e3e3" />
      <T x={338.3} y={279.7} s={9} w={500} c="#333">Predicted Class Probabilities</T>
      <Help x={530} y={280} r={6} /><Chev x={548} y={280} />
      <T x={338.3} y={299.7} s={9} c="#666">Correct Class: good</T>
      <T x={338.3} y={403.7} s={9} w={500} c="#333">Explanations for Class good</T>
      <Help x={530} y={403.7} r={6} /><Chev x={548} y={403.7} />
      <T x={479} y={420} s={9} c="#555">Not good</T>
      <T x={558} y={420} s={9} c="#555" a="end">good</T>

      <Cap x={7} y={580} w={562}>(c) Dataset preview and local surrogate. The left-hand side displays</Cap>
      <Cap x={7} y={606} w={562}>a preview of the input dataset. On the right-hand side feature</Cap>
      <Cap x={7} y={632} w={460}>attributions for the selected sample are displayed.</Cap>

      {/* (d) */}
      <T x={591} y={228.7} s={11} w={700} c="#222">Model Details</T>
      <Shrink x={1101} y={229} /><Help x={1119} y={228.5} r={6} /><Chev x={1137.5} y={228.5} />
      <T x={591} y={247} s={8.8} w={700} c="#222">Hyperparameters Optimization</T>
      {[863, 978].map(x => (
        <g key={x}>
          <rect x={x - 6} y={263} width={12} height={12} rx={1.5} fill="#f50057" />
          <polyline points={`${x - 3.5},${269} ${x - 1},${271.5} ${x + 3.5},${266.5}`} fill="none" stroke="#fff" strokeWidth={1.3} />
        </g>
      ))}
      <T x={877} y={268.7} s={8.7} c="#666">Show Surrogate Model</T>
      <T x={992} y={268.7} s={8.7} c="#666">Show Candidates</T>
      <Cont x={1064} y={269} ix={1129} />
      <line x1={591} x2={1156} y1={482.7} y2={482.7} stroke="#bbb" strokeWidth={1} />
      <T x={591} y={493} s={8.8} w={700} c="#222">Pipeline Structure Search</T>
      <Edge a={614} b={519} c={711} d={513} w={2.6} col="#bcbcbc" />
      <Edge a={614} b={528} c={711} d={536.5} w={2.6} col="#bcbcbc" />
      <Edge a={795} b={513} c={951.5} d={524} w={2.6} col="#bcbcbc" />
      <Edge a={795} b={536.5} c={832} d={536.5} w={2.6} col="#bcbcbc" />
      <Edge a={915.5} b={536.5} c={951.5} d={526} w={2.6} col="#bcbcbc" />
      <Edge a={1035.6} b={524.5} c={1071} d={524.5} w={2.6} col="#bcbcbc" />
      <rect x={591} y={513} width={23} height={23} rx={2.5} fill="#a9dff9" />
      <rect x={609} y={513} width={5} height={23} fill="#aaa" />
      <PipeNode x={711} y={506.7} w={84} t="OneHotEncoder" />
      <PipeNode x={711} y={530} w={84} t="KNNImputer" />
      <PipeNode x={832} y={530} w={83.5} t="VarianceThreshold" />
      <PipeNode x={951.5} y={518} w={84} t="PCA" />
      <rect x={951.5} y={518} width={6} height={12.6} fill="#aaa" />
      <PipeNode x={1071} y={518} w={83} t="RandomForest" />
      <T x={665} y={512.5} s={7.9} a="middle" rot={-7}>0,2,3,5,6,8,9,11,13,14,16,1</T>
      <T x={672} y={536.3} s={7.9} a="middle" rot={7}>1,4,7,10,12,15,17</T>

      <Cap x={591} y={580} w={557}>(d) Model details. At the top, the selected hyperparameter con-</Cap>
      <Cap x={591} y={606} w={557}>figuration is displayed in a CPC. At the bottom, the aggregated</Cap>
      <Cap x={591} y={632} w={489}>structure search graph up to this candidate is rendered.</Cap>

      {/* (e) */}
      <T x={8} y={655} s={10.3} w={500} c="#333">Hyperparameter Importance</T>
      <Shrink x={524} y={655} /><Help x={542} y={655} r={6} /><Chev x={562} y={655} />
      {upsetColumns.map((c, i) => (
        <T key={c} x={14.7 + i * 12} y={746.7} s={9.3} c={upsetBoldColumns.includes(i) ? '#111' : '#555'} w={upsetBoldColumns.includes(i) ? 700 : 400} rot={-50}>{c}</T>
      ))}
      <T x={170} y={730} s={9} c="#555" a="middle">Importance</T>
      <rect x={8} y={752} width={181} height={14} fill="#e2e2e2" />
      {['On the x axis, the range of the first numerical hyperparameter and on the y axis the range of the',
        'second numerical hyperparameter is displayed. 20 evenly distributed values are sampled and',
        'the marginal performance of each possible combination is calculated by averaging over all',
        'other possible hyperparameter constellations. The according marginal performance is',
        'displayed using a color scale. The range of the color scale is displayed above the heat map.'].map((l, i) => (
          <T key={i} x={209} y={674.7 + i * 12.5} s={8.55} c="#555">{l}</T>
        ))}
      <Cont x={208} y={740} ix={273} />
      <rect x={217.7} y={751.7} width={350.8} height={13.3} fill="url(#spec)" />
      <T x={251.7} y={758} s={8.8} a="middle" c="#333">0.69034</T>
      <T x={393} y={758} s={8.8} a="middle" c="#333">accuracy</T>
      <T x={535} y={758} s={8.8} a="middle" c="#333">0.70646</T>
      <Cont x={22.7} y={929} ix={87.7} />

      <Cap x={7} y={965} w={562}>(e) Hyperparameter importance with well-performing regions. On</Cap>
      <Cap x={7} y={991} w={562}>the left-hand side hyperparameter (pairs) are ranked by their im-</Cap>
      <Cap x={7} y={1017} w={562}>portance. On the right-hand side a heat map with well-performing</Cap>
      <Cap x={7} y={1043} w={562}>regions of the currently selected hyperparameter pair is displayed.</Cap>

      {/* (f) */}
      <T x={591} y={658.5} s={10.3} w={500} c="#333">Feature Importance</T>
      <Shrink x={1105} y={658} /><Help x={1123} y={658} r={6} /><Chev x={1142} y={658} />
      {featureColumns.map((c, i) => (
        <T key={c} x={597.3 + i * 12} y={740.7} s={9.4} c={i === 0 ? '#111' : '#555'} w={i === 0 ? 700 : 400} rot={-50}>{c}</T>
      ))}
      <T x={795} y={725} s={9} c="#555" a="middle">Importance</T>
      <rect x={591} y={748} width={217} height={11.4} fill="#e2e2e2" />
      <Cont x={597} y={926} ix={662} />
      <text x={827} y={737.7} fontSize={8.9} fontWeight={500} fill="#333" fontFamily={FONT} dominantBaseline="central">Partial Dependencies for Feature <tspan fontStyle="italic">duration</tspan> and class <tspan fontStyle="italic">bad</tspan></text>
      <Help x={1057} y={738} r={4} />
      <Cont x={1067} y={738} ix={1133} />

      <Cap x={591} y={965} w={557}>(f) Feature importance with PDP and ICE. On the left-hand side</Cap>
      <Cap x={591} y={991} w={557}>the features are ranked by their importance. On the right-hand</Cap>
      <Cap x={591} y={1017} w={557}>side a PDP and ICE plot show the correlation between the feature</Cap>
      <Cap x={591} y={1043} w={516}>value and predicted class for the currently selected feature.</Cap>
    </svg>
  );
}

export default function App() {
  return (
    <div style={{ position: 'absolute', left: 0, top: 0, width: 1156, height: 1057, overflow: 'hidden', background: '#fff' }}>
      <Overlay />
      <ChartBox x={379} y={40} w={196} h={106.3} make={rocConfig} />
      <ChartBox x={340} y={305} w={220} h={63} make={probConfig} />
      <ChartBox x={338} y={426} w={224} h={125} make={explainConfig} />
      <ChartBox x={590} y={296} w={540} h={174} make={pcpConfig} />
      <ChartBox x={8} y={752} w={122} h={169} make={() => dotsConfig(10, upsetPairs, [-0.558, 9.608], [-0.583, 13.5], 5.7)} />
      <ChartBox x={118} y={732} w={82} h={193} make={() => importanceConfig(upsetImportance, upsetErrLow, upsetErrHigh, { left: 13, right: 11, bottom: 4 }, 20, 0.75, [0, 0.25, 0.5, 0.75], ['0', '0.25', '0.5', '0.75'])} />
      <ChartBox x={212} y={764} w={360} h={171} make={heatConfig} />
      <ChartBox x={591} y={748} w={170} h={170} make={() => dotsConfig(14, featureColumns.map((_, i) => [i, i]), [-0.525, 13.64], [-0.555, 13.52], 5.4)} />
      <ChartBox x={752} y={727} w={62} h={195} make={() => importanceConfig(featureImportance, featureErrLow, featureErrHigh, { left: 12.3, right: 5.7, bottom: 4 }, 21, 0.57, [0, 0.25, 0.57], ['0', '0.25', '0.75'])} />
      <ChartBox x={835} y={750} w={321} h={175} make={pdpConfig} />
    </div>
  );
}
